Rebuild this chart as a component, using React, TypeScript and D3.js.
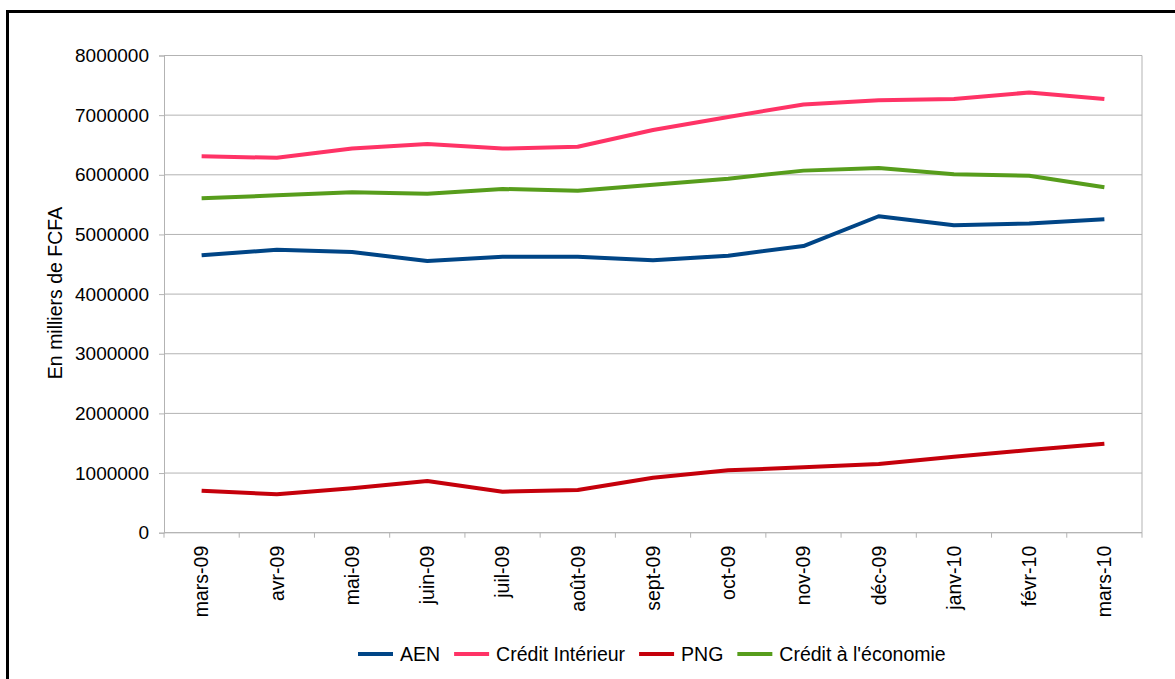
import React, { useRef, useEffect } from 'react';
import * as d3 from 'd3';

const months = ['mars-09', 'avr-09', 'mai-09', 'juin-09', 'juil-09', 'août-09', 'sept-09', 'oct-09', 'nov-09', 'déc-09', 'janv-10', 'févr-10', 'mars-10'];

const aen = [4650000, 4745000, 4705000, 4555000, 4625000, 4625000, 4567000, 4644000, 4806000, 5305000, 5155000, 5185000, 5255000];
const creditInterieur = [6310000, 6285000, 6440000, 6515000, 6440000, 6470000, 6750000, 6970000, 7180000, 7250000, 7270000, 7380000, 7270000];
const png = [704000, 643000, 744000, 867000, 687000, 716000, 922000, 1046000, 1096000, 1152000, 1274000, 1386000, 1492000];
const creditEconomie = [5606000, 5656000, 5707000, 5683000, 5762000, 5733000, 5834000, 5935000, 6070000, 6114000, 6008000, 5985000, 5790000];

const seriesNames = ['AEN', 'Crédit Intérieur', 'PNG', "Crédit à l'économie"];
const seriesColors = ['#004586', '#ff3366', '#c5000b', '#579d1c'];
const yTicks = [0, 1000000, 2000000, 3000000, 4000000, 5000000, 6000000, 7000000, 8000000];

const W = 1175, H = 679;
const margin = { l: 164, r: 33, t: 55.5, b: 146.3 };
const FONT = '"Liberation Sans", Arial, sans-serif';

export default function App() {
    const svg_ref = useRef<SVGSVGElement>(null);
    useEffect(() => { draw(svg_ref.current); }, []);
    return (
        <svg ref={svg_ref} width={W} height={H}
            style={{ position: 'absolute', left: 0, top: 0, background: '#fff' }} />
    );
}

function draw(node: SVGSVGElement | null) {
    if (!node) return;
    const svg = d3.select(node);
    svg.selectAll('*').remove();

    const plotW = W - margin.l - margin.r;
    const plotH = H - margin.t - margin.b;
    const values = [aen, creditInterieur, png, creditEconomie];
    const data = seriesNames.map((name, i) => ({
        name, color: seriesColors[i],
        vals: months.map((m, j) => ({ m, v: values[i][j] }))
    }));

    // outer frame (cut off on the right and bottom)
    svg.append('rect')
        .attr('x', 7.5).attr('y', 11.5)
        .attr('width', W + 20).attr('height', H + 20)
        .attr('fill', 'none').attr('stroke', '#000').attr('stroke-width', 3);

    const g = svg.append('g').attr('transform', `translate(${margin.l},${margin.t})`);

    const x = d3.scaleBand().domain(months).range([0, plotW]);
    const y = d3.scaleLinear().domain([0, 8000000]).range([plotH, 0]);

    // grid
    g.append('g').selectAll('line').data(yTicks).join('line')
        .attr('x1', 0).attr('x2', plotW)
        .attr('y1', d => y(d)).attr('y2', d => y(d))
        .attr('stroke', '#b3b3b3').attr('stroke-width', 1);

    g.append('line').attr('x1', plotW).attr('x2', plotW).attr('y1', 0).attr('y2', plotH)
        .attr('stroke', '#b3b3b3');

    // y axis
    const yAxis = g.append('g').call(d3.axisLeft(y).tickValues(yTicks).tickSize(5).tickPadding(10).tickFormat(d3.format('d')));
    yAxis.select('.domain').attr('stroke', '#b3b3b3');
    yAxis.selectAll('line').attr('stroke', '#b3b3b3');
    yAxis.selectAll('text').attr('fill', '#000').style('font-family', FONT).style('font-size', '19px');

    // x axis
    const xa = g.append('g').attr('transform', `translate(0,${plotH})`);
    xa.append('line').attr('x1', 0).attr('x2', plotW).attr('stroke', '#b3b3b3');
    const bounds = d3.range(months.length + 1).map(i => i === months.length ? plotW : (x(months[i]) as number));
    xa.selectAll('line.tk').data(bounds).join('line').attr('class', 'tk')
        .attr('x1', d => d).attr('x2', d => d).attr('y1', 0).attr('y2', 5)
        .attr('stroke', '#b3b3b3');
    xa.selectAll('text').data(months).join('text')
        .attr('transform', d => `translate(${(x(d) as number) + x.bandwidth() / 2},13) rotate(-90)`)
        .attr('text-anchor', 'end').attr('dy', '0.35em')
        .style('font-family', FONT).style('font-size', '19.5px').attr('fill', '#000')
        .text(d => d);

    // y title
    svg.append('text')
        .attr('transform', `translate(55,293) rotate(-90)`)
        .attr('text-anchor', 'middle').attr('dy', '0.35em')
        .style('font-family', FONT).style('font-size', '19.5px').attr('fill', '#000')
        .text('En milliers de FCFA');

    // lines
    const line = d3.line<{ m: string; v: number }>()
        .x(d => (x(d.m) as number) + x.bandwidth() / 2)
        .y(d => y(d.v));
    g.selectAll('path.series').data(data).join('path').attr('class', 'series')
        .attr('d', d => line(d.vals))
        .attr('fill', 'none').attr('stroke', d => d.color)
        .attr('stroke-width', 4).attr('stroke-linejoin', 'round');

    // legend
    const leg = svg.append('g').attr('transform', 'translate(0,654)');
    let cx = 358;
    data.forEach(d => {
        const it = leg.append('g');
        it.append('line').attr('x1', cx).attr('x2', cx + 35).attr('stroke', d.color).attr('stroke-width', 4);
        const t = it.append('text').attr('x', cx + 42).attr('dy', '0.35em')
            .style('font-family', FONT).style('font-size', '19.5px').attr('fill', '#000').text(d.name);
        const w = (t.node() as SVGTextElement).getComputedTextLength();
        cx += 42 + w + 14;
    });
}
